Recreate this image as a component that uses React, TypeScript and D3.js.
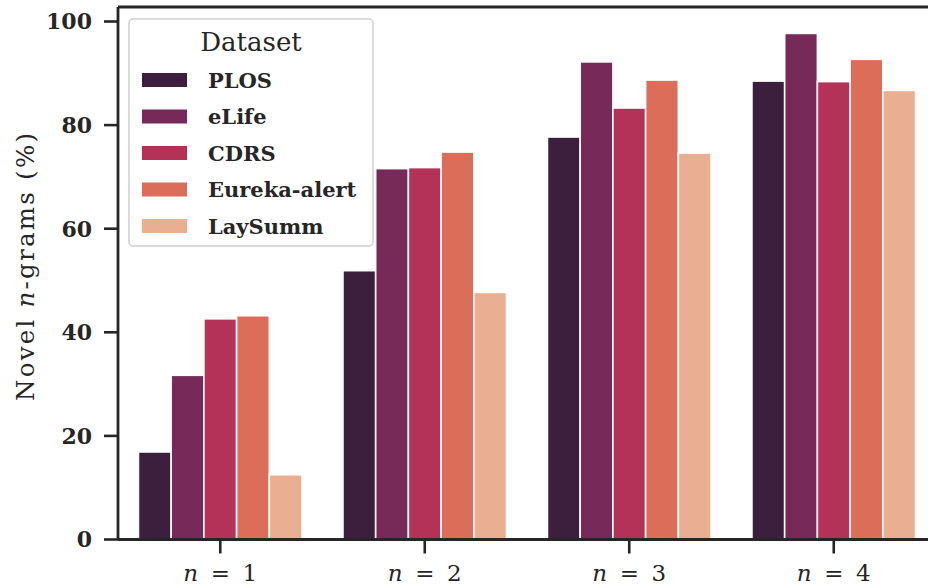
import React from "react";
import * as d3 from "d3";

const categories = ["1", "2", "3", "4"];
const datasets = ["PLOS", "eLife", "CDRS", "Eureka-alert", "LaySumm"];
const colors = ["#3b1f3d", "#772a57", "#b43157", "#dc6e59", "#eaaf91"];
const plosValues = [16.9, 51.9, 77.7, 88.5];
const elifeValues = [31.7, 71.6, 92.2, 97.7];
const cdrsValues = [42.6, 71.8, 83.3, 88.4];
const eurekaValues = [43.2, 74.8, 88.7, 92.7];
const laysummValues = [12.5, 47.7, 74.6, 86.7];
const yTicks = [0, 20, 40, 60, 80, 100];

const series = [plosValues, elifeValues, cdrsValues, eurekaValues, laysummValues];

const W = 928;
const H = 588;
const left = 118;
const right = 936;
const top = 7;
const bottom = 539.5;
const ink = "#262626";
const serif = "'DejaVu Serif', 'Liberation Serif', serif";

export default function App() {
  const x = d3.scaleBand<string>().domain(categories).range([left, right]).paddingInner(0).paddingOuter(0);
  const inner = d3.scaleBand<string>().domain(datasets).range([0, x.bandwidth() * 0.8]);
  const y = d3.scaleLinear().domain([0, 102.8]).range([bottom, top]);
  const offset = x.bandwidth() * 0.1;

  return (
    <svg width={W} height={H} style={{ position: "absolute", left: 0, top: 0 }} fontFamily={serif}>
      <rect width={W} height={H} fill="#fff" />
      {series.map((vals, si) =>
        vals.map((v, ci) => (
          <rect
            key={`${si}-${ci}`}
            x={(x(categories[ci]) as number) + offset + (inner(datasets[si]) as number)}
            y={y(v)}
            width={inner.bandwidth()}
            height={y(0) - y(v)}
            fill={colors[si]}
            stroke="#fff"
            strokeWidth={1.6}
          />
        ))
      )}
      {/* spines */}
      <line x1={left} x2={left} y1={top} y2={bottom} stroke={ink} strokeWidth={2.8} />
      <line x1={left} x2={W} y1={bottom} y2={bottom} stroke={ink} strokeWidth={2.8} />
      <line x1={left} x2={W} y1={top} y2={top} stroke={ink} strokeWidth={2.8} />
      {/* y ticks */}
      {yTicks.map((t) => (
        <g key={t}>
          <line x1={left - 14} x2={left} y1={y(t)} y2={y(t)} stroke={ink} strokeWidth={2.6} />
          <text x={left - 26} y={y(t)} dy="0.36em" textAnchor="end" fontSize={22} fontWeight="bold" fill={ink}>
            {t}
          </text>
        </g>
      ))}
      {/* x ticks */}
      {categories.map((c) => {
        const cx = (x(c) as number) + x.bandwidth() / 2;
        return (
          <g key={c}>
            <line x1={cx} x2={cx} y1={bottom} y2={bottom + 14} stroke={ink} strokeWidth={2.6} />
            <text x={cx - 37} y={581} fontSize={23} fill={ink} textLength={74} lengthAdjust="spacing">
              <tspan fontStyle="italic">n</tspan>
              <tspan> = {c}</tspan>
            </text>
          </g>
        );
      })}
      {/* y label */}
      <text transform="translate(33.5,267) rotate(-90)" textAnchor="middle" fontSize={24.5} fill={ink} textLength={268} lengthAdjust="spacing">
        <tspan>Novel </tspan>
        <tspan fontStyle="italic">n</tspan>
        <tspan>-grams (%)</tspan>
      </text>
      {/* legend */}
      <rect x={129} y={19} width={244} height={227} rx={4} fill="#fff" fillOpacity={0.8} stroke="#d0d0d0" strokeWidth={1.5} />
      <text x={251} y={42} dy="0.36em" textAnchor="middle" fontSize={26} fill={ink}>
        Dataset
      </text>
      {datasets.map((d, i) => (
        <g key={d}>
          <rect x={142} y={73 + i * 36.5} width={45} height={14} fill={colors[i]} />
          <text x={208} y={80 + i * 36.5} dy="0.36em" fontSize={21} fontWeight="bold" fill={ink}>
            {d}
          </text>
        </g>
      ))}
    </svg>
  );
}
